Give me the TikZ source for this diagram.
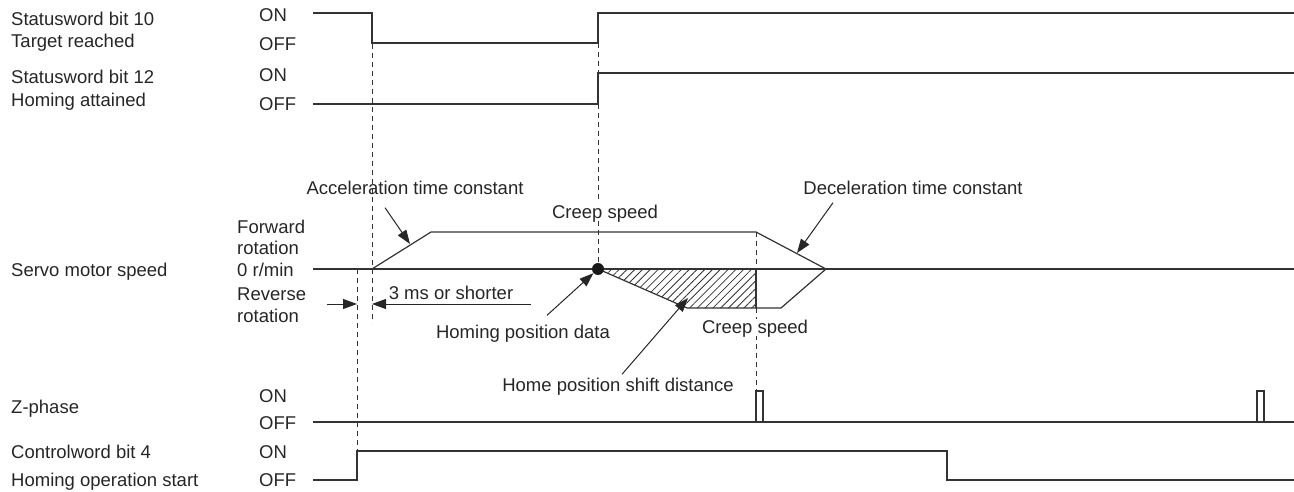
\documentclass[tikz,border=0pt]{standalone}
\usepackage{fontspec}
\setmainfont{Liberation Sans}
\usetikzlibrary{arrows.meta, patterns.meta}
\tikzset{
  sig/.style={draw=black!80, line width=1.2pt},
  guide/.style={draw=black!80, line width=0.9pt, dash pattern=on 5pt off 4pt},
  lbl/.style={font=\fontsize{18.5}{22}\selectfont, text=black!85, inner sep=0pt,
              text height=13pt, text depth=0pt},
  wlbl/.style={lbl, fill=white, inner sep=2pt},
  pointer/.style={draw=black!85, line width=1pt, -{Triangle[length=14pt,width=10pt]}},
  hatch/.style={pattern={Lines[angle=45,distance=5.5pt,line width=0.8pt]}, pattern color=black!80},
}

\begin{document}
\begin{tikzpicture}[x=1pt, y=-1pt]
  \useasboundingbox (0,0) rectangle (1294,492);

  % signal names
  \node[lbl, anchor=west] (sw10a) at (11,19) {Statusword bit 10};
  \node[lbl, anchor=west] (sw10b) at (11,41) {Target reached};
  \node[lbl, anchor=west] (sw12a) at (11,77) {Statusword bit 12};
  \node[lbl, anchor=west] (sw12b) at (11,100) {Homing attained};
  \node[lbl, anchor=west] (speed) at (11,270) {Servo motor speed};
  \node[lbl, anchor=west] (zph) at (11,407) {Z-phase};
  \node[lbl, anchor=west] (cw4a) at (11,452) {Controlword bit 4};
  \node[lbl, anchor=west] (cw4b) at (11,480) {Homing operation start};

  % ON / OFF levels
  \foreach \on/\off [count=\k] in {15/44, 75/104, 396/423, 452/480}{
    \node[lbl, anchor=west] (on\k) at (259,\on) {ON};
    \node[lbl, anchor=west] (off\k) at (259,\off) {OFF};
  }

  % speed axis
  \node[lbl, anchor=west] (fwd1) at (237,227) {Forward};
  \node[lbl, anchor=west] (fwd2) at (237,248) {rotation};
  \node[lbl, anchor=west] (zero) at (237,270) {0 r/min};
  \node[lbl, anchor=west] (rev1) at (237,294) {Reverse};
  \node[lbl, anchor=west] (rev2) at (237,316) {rotation};

  % timing guides
  \draw[guide] (372,44) -- (372,323);
  \draw[guide] (357,269) -- (357,451);
  \draw[guide] (598,43) -- (598,73);
  \draw[guide] (598,104) -- (598,264);
  \draw[guide] (756,232) -- (756,269);
  \draw[guide] (756,308) -- (756,390);

  % status / control signals
  \draw[sig] (313,13) -- (372,13) -- (372,43) -- (598,43) -- (598,13) -- (1294,13);
  \draw[sig] (313,104) -- (598,104) -- (598,73) -- (1294,73);
  \draw[sig] (313,422) -- (1294,422);
  \draw[sig] (756,422) rectangle (763,391);
  \draw[sig] (1257,422) rectangle (1264,391);
  \draw[sig] (313,480) -- (357,480) -- (357,451) -- (947,451) -- (947,480) -- (1294,480);

  % servo motor speed
  \fill[hatch] (598,269) -- (687,308) -- (756,308) -- (756,269) -- cycle;
  \draw[sig] (313,269) -- (1294,269);
  \draw[sig, line join=miter] (372,269) -- (431,232) -- (756,232) -- (826,269);
  \draw[sig, line join=miter] (598,269) -- (687,308) -- (781,308) -- (826,269);
  \draw[sig] (756,269) -- (756,308);
  \node[circle, fill=black!90, minimum size=12pt, inner sep=0pt] (home) at (598,269) {};

  % annotations
  \node[lbl] (acc) at (415,188) {Acceleration time constant};
  \node[lbl] (dec) at (913,188) {Deceleration time constant};
  \node[wlbl] (creepup) at (605,212) {Creep speed};
  \node[wlbl] (creepdn) at (755,327) {Creep speed};
  \node[lbl] (ms3) at (451,293) {3 ms or shorter};
  \node[lbl] (hpd) at (523,332) {Homing position data};
  \node[lbl] (hsd) at (618,385) {Home position shift distance};

  \coordinate (accTip) at (410,244);
  \coordinate (decTip) at (797,253);
  \coordinate (hsdTip) at (688,298);
  \coordinate (dimL) at (327,304);
  \coordinate (dimR) at (531,304);
  \coordinate (tStart) at (357,304);
  \coordinate (tRamp) at (372,304);

  \draw[pointer] ([shift={(-30pt,-13pt)}]acc.south) -- (accTip);
  \draw[pointer] ([shift={(-80pt,-8pt)}]dec.south) -- (decTip);
  \draw[pointer] ([shift={(24pt,10pt)}]hpd.north) -- (home);
  \draw[pointer] ([shift={(4pt,4pt)}]hsd.north) -- (hsdTip);
  \draw[pointer] (dimL) -- (tStart);
  \draw[pointer] (dimR) -- (tRamp);
\end{tikzpicture}
\end{document}
